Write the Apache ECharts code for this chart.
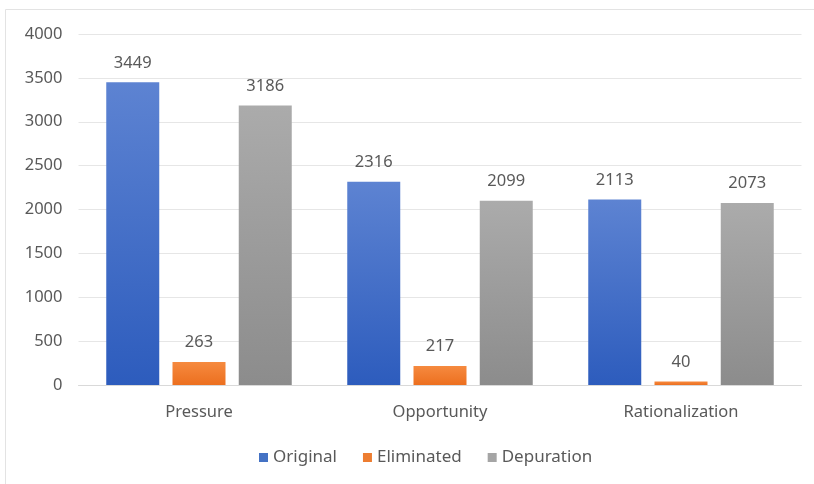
<!DOCTYPE html>
<html><head><meta charset="utf-8">
<script src="https://cdn.jsdelivr.net/npm/echarts@6/dist/echarts.min.js"></script>
<style>html,body{margin:0;padding:0;background:#fff}#c{width:814px;height:484px}</style>
</head><body><div id="c"></div>
<script>
const categories = ['Pressure', 'Opportunity', 'Rationalization'];
const original = [3449, 2316, 2113];
const eliminated = [263, 217, 40];
const depuration = [3186, 2099, 2073];
const yTicks = [0, 500, 1000, 1500, 2000, 2500, 3000, 3500, 4000];

function grad(top, bottom) {
  return new echarts.graphic.LinearGradient(0, 0, 0, 1, [{offset: 0, color: top}, {offset: 1, color: bottom}]);
}
const font = 'Noto Sans';
const txt = '#595959';
const fs = 16.5;
function s(name, data, top, bottom) {
  return {
    name, type: 'bar', data, barWidth: 53, barGap: '25%',
    itemStyle: {color: grad(top, bottom)},
    label: {show: true, position: 'top', distance: 11, color: txt, fontSize: fs, fontFamily: font}
  };
}
const chart = echarts.init(document.getElementById('c'), null, {renderer: 'canvas'});
chart.setOption({
  animation: false,
  color: ['#4472c4', '#ed7d31', '#a5a5a5'],
  graphic: [{type: 'rect', shape: {x: 5.5, y: 9.5, width: 900, height: 600}, style: {fill: 'none', stroke: '#e3e3e3', lineWidth: 1}, silent: true}],
  grid: {left: 78.5, right: 12.5, top: 34, bottom: 99},
  legend: {
    bottom: 13, left: 254, itemWidth: 9, itemHeight: 9, itemGap: 26,
    icon: 'rect',
    textStyle: {color: txt, fontSize: 17, fontFamily: font},
    data: [
      {name: 'Original', itemStyle: {color: '#4472c4'}},
      {name: 'Eliminated', itemStyle: {color: '#ed7d31'}},
      {name: 'Depuration', itemStyle: {color: '#a5a5a5'}}
    ]
  },
  xAxis: {
    type: 'category', data: categories,
    axisLine: {lineStyle: {color: '#d9d9d9'}},
    axisTick: {show: false},
    axisLabel: {color: txt, fontSize: fs, fontFamily: font, margin: 19}
  },
  yAxis: {
    type: 'value', min: yTicks[0], max: yTicks[yTicks.length - 1], interval: 500,
    axisLine: {show: false}, axisTick: {show: false},
    splitLine: {lineStyle: {color: '#e6e6e6'}},
    axisLabel: {color: txt, fontSize: fs, fontFamily: font, margin: 16, formatter: v => String(v)}
  },
  series: [
    s('Original', original, '#5d83d2', '#2d5cbd'),
    s('Eliminated', eliminated, '#f68a3f', '#ec6f1f'),
    s('Depuration', depuration, '#ababab', '#8c8c8c')
  ]
});
</script></body></html>
